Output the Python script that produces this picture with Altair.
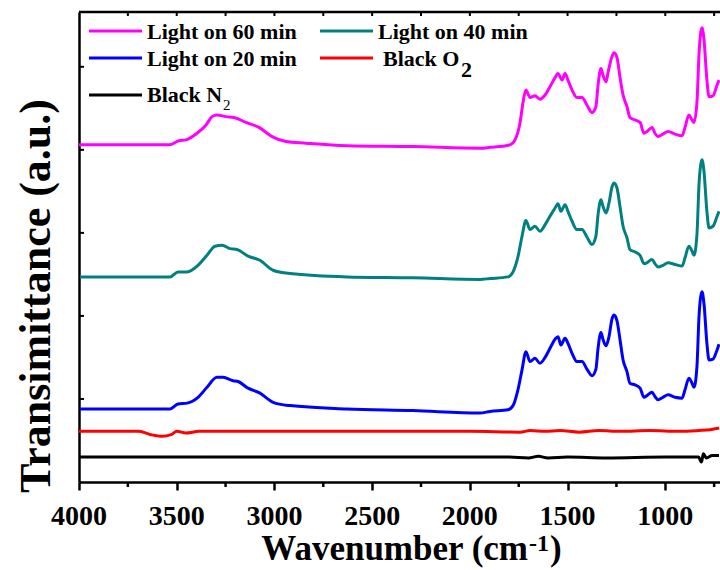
import altair as alt
import pandas as pd

# ---- data: wavenumber (cm-1) and transmittance (a.u.) ----
mag_wn = [4000, 3539, 3488, 3453, 3396, 3350, 3319, 3294, 3248, 3207, 3145, 3079, 3012, 2941, 2838, 2629, 2291, 1948,
          1897, 1795, 1769, 1743, 1728, 1713, 1692, 1667, 1641, 1615, 1590, 1564, 1549, 1528, 1513, 1498, 1477, 1452,
          1426, 1401, 1375, 1355, 1344, 1329, 1319, 1303, 1293, 1273, 1262, 1247, 1232, 1216, 1196, 1181, 1155, 1129,
          1109, 1094, 1068, 1053, 1037, 1012, 986, 950, 914, 899, 879, 863, 853, 838, 827, 812, 802, 787, 776, 756,
          735, 725]
mag_t = [4.06, 4.06, 4.11, 4.12, 4.20, 4.30, 4.40, 4.42, 4.40, 4.39, 4.33, 4.27, 4.16, 4.10, 4.08, 4.05, 4.04, 4.02,
         4.03, 4.06, 4.12, 4.33, 4.57, 4.72, 4.63, 4.65, 4.61, 4.66, 4.76, 4.87, 4.92, 4.84, 4.92, 4.84, 4.72, 4.63,
         4.63, 4.54, 4.45, 4.52, 4.78, 4.98, 4.90, 4.82, 4.93, 5.12, 5.17, 5.11, 4.88, 4.66, 4.52, 4.39, 4.36, 4.33,
         4.20, 4.22, 4.27, 4.20, 4.16, 4.19, 4.22, 4.19, 4.17, 4.27, 4.42, 4.36, 4.33, 4.57, 5.17, 5.47, 5.33, 4.84,
         4.64, 4.65, 4.78, 4.84]

teal_wn = [3995, 3534, 3493, 3447, 3391, 3345, 3304, 3268, 3227, 3192, 3135, 3074, 3007, 2920, 2629, 2291, 1948,
           1897, 1805, 1779, 1754, 1733, 1713, 1692, 1667, 1641, 1615, 1590, 1564, 1549, 1534, 1513, 1498, 1477, 1452,
           1426, 1401, 1375, 1355, 1344, 1329, 1319, 1303, 1288, 1273, 1262, 1247, 1232, 1216, 1196, 1181, 1155, 1129,
           1109, 1094, 1068, 1053, 1037, 1012, 986, 950, 914, 899, 879, 863, 853, 838, 827, 812, 802, 787, 776, 756,
           735, 725]
teal_t = [2.47, 2.47, 2.53, 2.53, 2.61, 2.73, 2.84, 2.85, 2.81, 2.80, 2.72, 2.67, 2.55, 2.51, 2.47, 2.46, 2.44,
          2.45, 2.47, 2.53, 2.71, 2.96, 3.15, 3.04, 3.08, 3.02, 3.10, 3.20, 3.30, 3.35, 3.26, 3.34, 3.26, 3.14, 3.04,
          3.04, 2.95, 2.86, 2.96, 3.22, 3.40, 3.32, 3.24, 3.36, 3.55, 3.60, 3.54, 3.32, 3.08, 2.94, 2.80, 2.77, 2.73,
          2.63, 2.64, 2.68, 2.63, 2.59, 2.61, 2.64, 2.62, 2.60, 2.70, 2.84, 2.78, 2.73, 2.98, 3.60, 3.88, 3.74, 3.26,
          3.06, 3.08, 3.20, 3.26]

blue_wn = [3995, 3534, 3493, 3447, 3391, 3345, 3294, 3263, 3212, 3186, 3135, 3074, 3007, 2920, 2629, 2291, 1948,
           1897, 1805, 1779, 1754, 1733, 1713, 1692, 1667, 1641, 1615, 1590, 1564, 1549, 1534, 1513, 1498, 1477, 1452,
           1426, 1401, 1375, 1355, 1344, 1329, 1319, 1303, 1288, 1273, 1262, 1247, 1232, 1216, 1196, 1181, 1155, 1129,
           1109, 1094, 1068, 1053, 1037, 1012, 986, 950, 914, 899, 879, 863, 853, 838, 827, 812, 802, 787, 776, 756,
           735, 725]
blue_t = [0.88, 0.88, 0.94, 0.95, 1.02, 1.14, 1.26, 1.26, 1.22, 1.21, 1.13, 1.07, 0.96, 0.92, 0.88, 0.86, 0.83,
          0.85, 0.87, 0.92, 1.11, 1.35, 1.57, 1.45, 1.49, 1.43, 1.50, 1.61, 1.72, 1.75, 1.65, 1.73, 1.67, 1.55, 1.45,
          1.45, 1.36, 1.28, 1.36, 1.61, 1.80, 1.72, 1.64, 1.75, 1.96, 2.01, 1.94, 1.72, 1.47, 1.33, 1.19, 1.17, 1.13,
          1.02, 1.04, 1.08, 1.03, 0.99, 1.02, 1.05, 1.02, 1.01, 1.11, 1.25, 1.19, 1.14, 1.39, 2.01, 2.29, 2.15, 1.67,
          1.47, 1.48, 1.59, 1.66]

red_wn = [4000, 3693, 3632, 3575, 3529, 3499, 3453, 3386, 3232, 3000, 2500, 2000, 1743, 1692, 1615, 1540, 1440, 1340,
          1230, 1080, 930, 830, 770, 725]
red_t = [0.61, 0.61, 0.57, 0.55, 0.57, 0.61, 0.59, 0.61, 0.61, 0.61, 0.61, 0.61, 0.60, 0.62, 0.61, 0.62, 0.60, 0.62,
         0.61, 0.62, 0.61, 0.62, 0.63, 0.65]

black_wn = [4000, 1800, 1700, 1650, 1600, 1500, 1300, 1000, 830, 815, 805, 790, 760, 725]
black_t = [0.30, 0.30, 0.29, 0.31, 0.29, 0.30, 0.29, 0.30, 0.30, 0.24, 0.34, 0.29, 0.32, 0.32]

series = ["Light on 60 min", "Light on 40 min", "Light on 20 min", "Black O2", "Black N2"]
colors = ["#FF00FF", "#008080", "#0000FF", "#FF0000", "#000000"]
x_ticks = [4000, 3500, 3000, 2500, 2000, 1500, 1000]
x_tick_labels = ["4000", "3500", "3000", "2500", "2000", "1500", "1000"]
x_minor = [3750, 3250, 2750, 2250, 1750, 1250, 750]
x_top = [3750, 3500, 3250, 3000, 2750, 2500, 2250, 2000, 1750, 1500, 1250, 1000, 750]
y_ticks = [1, 2, 3, 4, 5]

rows = []
for name, wn, t in [(series[4], black_wn, black_t), (series[3], red_wn, red_t), (series[2], blue_wn, blue_t),
                    (series[1], teal_wn, teal_t), (series[0], mag_wn, mag_t)]:
    for w, v in zip(wn, t):
        rows.append({"series": name, "wn": w, "t": v})
df = pd.DataFrame(rows)

W, H = 641, 470
FONT = "Liberation Serif"
xscale = alt.Scale(domain=[4000, 720], nice=False, zero=False)
yscale = alt.Scale(domain=[0, 5.66], nice=False, zero=False)
xaxis = alt.Axis(values=x_ticks, title=None, grid=False, labels=False,
                 tickSize=8, tickWidth=2.5, tickColor="black", domainWidth=2.5, domainColor="black")
yaxis = alt.Axis(labels=False, ticks=False, title=None, grid=False, domainWidth=2.5, domainColor="black")

lines = alt.Chart(df).mark_line(strokeWidth=3, clip=True, interpolate="monotone").encode(
    x=alt.X("wn:Q", scale=xscale, axis=xaxis),
    y=alt.Y("t:Q", scale=yscale, axis=yaxis),
    color=alt.Color("series:N", scale=alt.Scale(domain=series, range=colors), legend=None),
    detail="series:N",
)

tick_labels = alt.Chart(pd.DataFrame({"wn": x_ticks, "lab": x_tick_labels})).mark_text(
    font=FONT, fontSize=28, fontWeight="bold", color="black", baseline="middle", align="center").encode(
    x=alt.X("wn:Q", scale=xscale, axis=xaxis), y=alt.value(H + 35), text="lab:N")

minor = alt.Chart(pd.DataFrame({"wn": x_minor})).mark_rule(color="black", strokeWidth=2.5).encode(
    x=alt.X("wn:Q", scale=xscale, axis=xaxis), y=alt.value(H), y2=alt.value(H + 5))
top_ticks = alt.Chart(pd.DataFrame({"wn": x_top})).mark_rule(color="black", strokeWidth=2).encode(
    x=alt.X("wn:Q", scale=xscale, axis=xaxis), y=alt.value(0), y2=alt.value(4))
top_line = alt.Chart(pd.DataFrame({"a": [0]})).mark_rule(color="black", strokeWidth=2.5).encode(
    x=alt.value(0), x2=alt.value(W), y=alt.value(0))
left_ticks = alt.Chart(pd.DataFrame({"t": y_ticks})).mark_rule(color="black", strokeWidth=2).encode(
    y=alt.Y("t:Q", scale=yscale, axis=yaxis), x=alt.value(0), x2=alt.value(5))

one = pd.DataFrame({"a": [0]})


def txt(s, x, y, size=22, weight="bold", align="left", baseline="middle", angle=0):
    kw = dict(font=FONT, fontSize=size, fontWeight=weight, align=align, baseline=baseline, color="black")
    if angle:
        kw["angle"] = angle
    return alt.Chart(one).mark_text(**kw).encode(x=alt.value(x), y=alt.value(y), text=alt.value(s))


def sample(color, x1, y):
    return alt.Chart(one).mark_rule(color=color, strokeWidth=3).encode(
        x=alt.value(x1), x2=alt.value(x1 + 53), y=alt.value(y))


legend = [
    sample(colors[0], 10, 19), txt("Light on 60 min", 68, 20),
    sample(colors[1], 241, 19), txt("Light on 40 min", 299, 20),
    sample(colors[2], 10, 46), txt("Light on 20 min", 68, 47),
    sample(colors[3], 241, 46), txt("Black O", 304, 47), txt("2", 382, 58),
    sample(colors[4], 10, 83), txt("Black N", 68, 83), txt("2", 144, 93, size=15, weight="normal"),
]

titles = [
    txt("Transimittance (a.u.)", -42, 284, size=44, align="center", angle=270),
    txt("Wavenumber (cm", 449, 548, size=35, align="right", baseline="alphabetic"),
    txt("-1", 450, 539, size=24, baseline="alphabetic"),
    txt(")", 471, 548, size=35, baseline="alphabetic"),
]

chart = alt.layer(lines, tick_labels, minor, top_ticks, top_line, left_ticks, *legend, *titles).properties(
    width=W, height=H, padding={"left": 79, "top": 12, "right": 0, "bottom": 88}, autosize="none",
    background="white",
).configure_view(stroke=None)

chart.save("out.html", embed_options={"renderer": "svg", "actions": False})
